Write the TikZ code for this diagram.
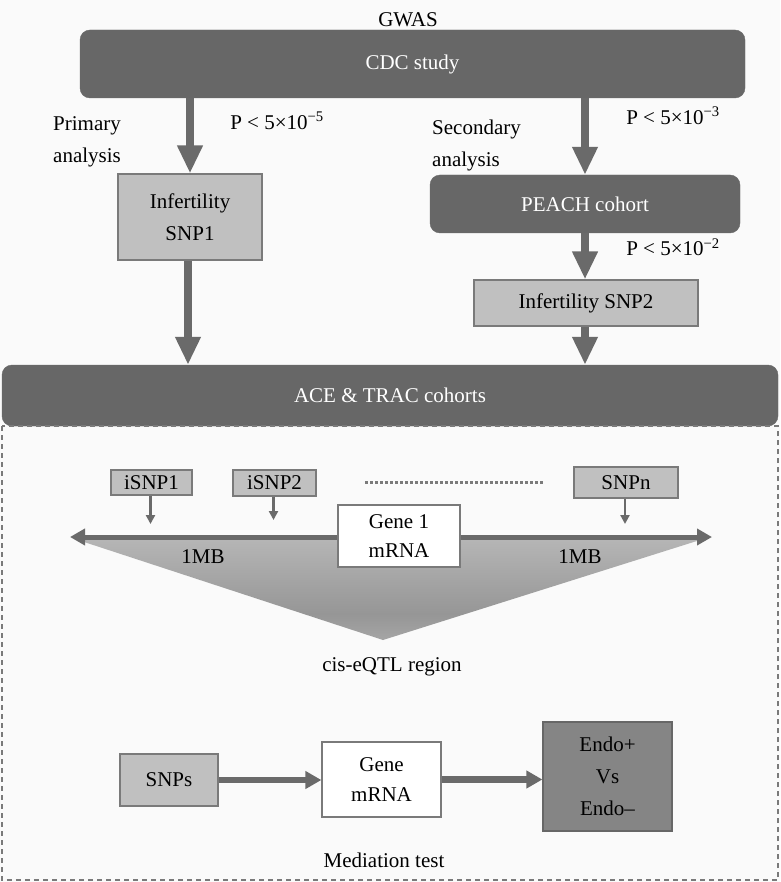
\documentclass[tikz,border=0pt]{standalone}
\usepackage{fontspec}
\setmainfont{Liberation Serif}
\usepackage{xcolor}
\definecolor{nenxam}{HTML}{FAFAFA}
\definecolor{hopdam}{HTML}{676767}
\definecolor{hopnhat}{HTML}{C0C0C0}
\definecolor{vienxam}{HTML}{7A7A7A}
\definecolor{muiten}{HTML}{6A6A6A}
\definecolor{hopvua}{HTML}{858585}
\definecolor{cisduoi}{HTML}{C2C2C2}
\definecolor{cisgiua}{HTML}{969696}
\definecolor{cistren}{HTML}{CACACA}
\def\mauhop{hopdam}
\def\mauten{muiten}
\usetikzlibrary{arrows.meta,shadings,positioning,calc}
\pgfdeclareverticalshading{vungcis}{100bp}{color(0bp)=(cisduoi); color(38bp)=(cisgiua); color(100bp)=(cistren)}

\begin{document}
\begin{tikzpicture}[x=1pt,y=-1pt,font=\fontsize{21}{32}\selectfont,
	hopto/.style={draw=\mauhop,fill=\mauhop,rounded corners=10pt,text=white,inner sep=0pt},
	hopsnp/.style={draw=vienxam,fill=hopnhat,line width=1.2pt,inner sep=0pt,align=center},
	hoptrang/.style={draw=vienxam,fill=white,line width=1.2pt,inner sep=0pt,align=center},
	tenlon/.style={draw=\mauten,line width=8pt,-{Triangle[width=24pt,length=28pt]}},
	tennho/.style={draw=\mauten,line width=2.5pt,-{Triangle[width=9pt,length=9pt]}},
	tenvua/.style={draw=\mauten,line width=6.5pt,-{Triangle[width=17pt,length=16pt]}}]
	%%%Khung nen
	\fill[nenxam] (0,0) rectangle (780,882);
	\useasboundingbox (0,0) rectangle (780,882);
	%%%Phan GWAS
	\node (gwas) at (408,20) {GWAS};
	\node[hopto,minimum width=665pt,minimum height=68pt] (cdc) at (412.5,64) {CDC study};
	\node[hopsnp,minimum width=144pt,minimum height=86pt] (snp1) at (190,217) {Infertility\\SNP1};
	\node[hopto,minimum width=310pt,minimum height=58pt] (peach) at (585,204) {PEACH cohort};
	\node[hopsnp,minimum width=224pt,minimum height=46pt] (snp2) at (586,303) {Infertility SNP2};
	\node[hopto,minimum width=776pt,minimum height=61pt] (ace) at (390,395.5) {ACE \& TRAC cohorts};
	%%%Nhan cac mui ten
	\node[anchor=north west,align=left,inner sep=0pt] (pri) at (53,116) {Primary\\analysis};
	\node[anchor=north west,align=left,inner sep=0pt] (sec) at (432,120) {Secondary\\analysis};
	\node (p1) at (277,121) {P < 5×10\textsuperscript{−5}};
	\node (p2) at (673,116) {P < 5×10\textsuperscript{−3}};
	\node (p3) at (673,247) {P < 5×10\textsuperscript{−2}};
	%%%Cac mui ten lon
	\draw[tenlon] (cdc.south -| snp1) -- (snp1.north);
	\draw[tenlon] (cdc.south -| peach) -- (peach.north);
	\draw[tenlon] (peach.south) -- (snp2.north -| peach);
	\draw[tenlon] (snp1.south -| 188,0) -- (ace.north -| 188,0);
	\draw[tenlon] (snp2.south -| peach) -- (ace.north -| peach);
	%%%Khung net dut
	\draw[vienxam,line width=1.8pt,dash pattern=on 5pt off 4pt] (2,426) rectangle (778,880);
	%%%Vung cis-eQTL
	\shade[shading=vungcis]
		(78,540) coordinate (T1) -- (700,540) coordinate (T2) -- (383,640) coordinate (T3) -- cycle;
	\coordinate (Ltrai) at (70,537);
	\coordinate (Lphai) at (712,537);
	\draw[\mauten,line width=5pt,{Triangle[width=16pt,length=15pt]}-{Triangle[width=16pt,length=15pt]}] (Ltrai) -- (Lphai);
	\node[hoptrang,minimum width=122pt,minimum height=62pt,font=\fontsize{21}{29}\selectfont] (gene1) at (399,536) {Gene 1\\mRNA};
	\node (mb1) at (203,557) {1MB};
	\node (mb2) at (580,557) {1MB};
	\foreach [count=\i from 1] \ten/\x/\y/\w/\h/\d in {%
		iSNP1/151.5/482.5/81/25/524,
		iSNP2/274.5/483/83/26/520,
		SNPn/626/482.5/104/31/524
		}{%
		\node[hopsnp,minimum width=\w pt,minimum height=\h pt] (isnp-\i) at (\x,\y) {\ten};
		\coordinate (dich-\i) at (\x-1,\d);
		\draw[tennho] (isnp-\i.south -| dich-\i) -- (dich-\i);
	}
	\draw[vienxam,line width=3pt,dash pattern=on 3pt off 2pt] (365,482) coordinate (cham1) -- (543,482) coordinate (cham2);
	\node (cis) at (392,667) {cis-eQTL region};
	%%%Kiem dinh trung gian
	\node[hopsnp,minimum width=98pt,minimum height=52pt] (snps) at (169,780) {SNPs};
	\node[hoptrang,minimum width=119pt,minimum height=75pt,font=\fontsize{21}{30}\selectfont] (gene) at (381.5,779.5) {Gene\\mRNA};
	\node[hopsnp,fill=hopvua,draw=\mauhop,minimum width=129pt,minimum height=109pt] (endo) at (607.5,776.5) {Endo+\\Vs\\Endo–};
	\draw[tenvua] (snps.east) -- (gene.west |- snps.east);
	\draw[tenvua] (gene.east) -- (endo.west |- gene.east);
	\node (med) at (384,860) {Mediation test};
\end{tikzpicture}
\end{document}
